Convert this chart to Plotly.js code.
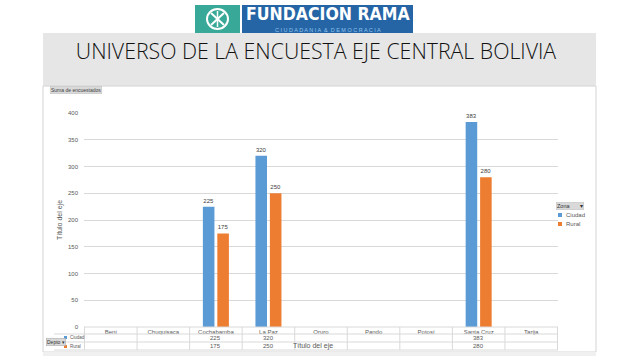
<!DOCTYPE html>
<html>
<head>
<meta charset="utf-8">
<script src="https://cdn.plot.ly/plotly-3.0.1.min.js"></script>
<style>html,body{margin:0;padding:0;background:#fff;}#chart{width:640px;height:360px;}</style>
</head>
<body>
<div id="chart"></div>
<script>
// ---- data ----
const categories = ['Beni','Chuquisaca','Cochabamba','La Paz','Oruro','Pando','Potosí','Santa Cruz','Tarija'];
const ciudad = [null,null,225,320,null,null,null,383,null];
const rural  = [null,null,175,250,null,null,null,280,null];
const seriesNames = ['Ciudad','Rural'];
const yTickVals = [0,50,100,150,200,250,300,350,400];

// ---- layout geometry ----
const W = 640, H = 360;
const L = 84, R = 558, T = 113, B = 327;
const px = x => (x - L) / (R - L);
const py = y => (B - y) / (B - T);
const BLUE = '#5B9BD5', ORANGE = '#ED7D31';
const GRID = '#d9d9d9', TXT = '#595959';
const FONT = 'Liberation Sans, Arial, sans-serif';

const traces = [
  {type:'bar', name:seriesNames[0], x:categories, y:ciudad, marker:{color:BLUE},
   texttemplate:'%{y}', textposition:'outside', textfont:{size:6, color:'#404040', family:FONT},
   cliponaxis:false, showlegend:false, hoverinfo:'x+y'},
  {type:'bar', name:seriesNames[1], x:categories, y:rural, marker:{color:ORANGE},
   texttemplate:'%{y}', textposition:'outside', textfont:{size:6, color:'#404040', family:FONT},
   cliponaxis:false, showlegend:false, hoverinfo:'x+y'}
];

const shapes = [];
const annotations = [];

// slide panels
shapes.push({type:'rect', xref:'paper', yref:'paper', x0:px(43), x1:px(596), y0:py(33), y1:py(86),
  fillcolor:'#e6e6e6', line:{width:0}, layer:'below'});
shapes.push({type:'rect', xref:'paper', yref:'paper', x0:px(43), x1:px(596), y0:py(86), y1:py(352),
  fillcolor:'#ffffff', line:{color:'#d4d4d4', width:1}, layer:'below'});
shapes.push({type:'rect', xref:'paper', yref:'paper', x0:px(43), x1:px(596), y0:py(352), y1:py(356),
  fillcolor:'#f0f0f0', line:{width:0}, layer:'below'});

// logo
shapes.push({type:'rect', xref:'paper', yref:'paper', x0:px(195), x1:px(240), y0:py(5), y1:py(33),
  fillcolor:'#38a898', line:{width:0}});
shapes.push({type:'rect', xref:'paper', yref:'paper', x0:px(242), x1:px(413), y0:py(5), y1:py(33),
  fillcolor:'#2565a6', line:{width:0}});
shapes.push({type:'circle', xref:'paper', yref:'paper', x0:px(207), x1:px(228), y0:py(9), y1:py(29),
  line:{color:'#ffffff', width:2}});
shapes.push({type:'line', xref:'paper', yref:'paper', x0:px(211), x1:px(224), y0:py(13), y1:py(25), line:{color:'#fff', width:2}});
shapes.push({type:'line', xref:'paper', yref:'paper', x0:px(224), x1:px(211), y0:py(13), y1:py(25), line:{color:'#fff', width:2}});
shapes.push({type:'line', xref:'paper', yref:'paper', x0:px(217.5), x1:px(217.5), y0:py(11), y1:py(27), line:{color:'#fff', width:1.5}});
annotations.push({xref:'paper', yref:'paper', x:px(328), y:py(14.5), text:'<b>FUNDACION RAMA</b>', showarrow:false,
  font:{family:'DejaVu Sans Condensed, Liberation Sans Narrow, sans-serif', size:17.5, color:'#ffffff'}, xanchor:'center', yanchor:'middle'});
annotations.push({xref:'paper', yref:'paper', x:px(328), y:py(29.5), text:'C I U D A D A N I A  &  D E M O C R A C I A', showarrow:false,
  font:{family:FONT, size:5.5, color:'#8fc3ec'}, xanchor:'center', yanchor:'middle'});

// "Suma de encuestados" button
annotations.push({xref:'paper', yref:'paper', x:px(50), y:py(90), text:'Suma de encuestados', showarrow:false,
  xanchor:'left', yanchor:'middle', font:{family:FONT, size:5, color:'#404040'}, bgcolor:'#d9d9d9', bordercolor:'#bfbfbf', borderwidth:0.5, borderpad:0.5});

// data table under the axis
const rowY = [327, 334, 342, 350];
rowY.forEach((y,i) => {
  shapes.push({type:'line', xref:'paper', yref:'paper', x0:px(i===0 ? 84 : 54), x1:px(558), y0:py(y), y1:py(y),
    line:{color:GRID, width:1}});
});
for (let i = 0; i <= categories.length; i++) {
  shapes.push({type:'line', xref:'x', yref:'paper', x0:i-0.5, x1:i-0.5, y0:py(327), y1:py(350),
    line:{color:GRID, width:1}});
}
const tableRows = [ciudad, rural];
tableRows.forEach((vals, r) => {
  vals.forEach((v, i) => {
    if (v !== null) annotations.push({xref:'x', yref:'paper', x:categories[i], y:py(r===0 ? 338 : 346), text:String(v),
      showarrow:false, font:{family:FONT, size:6, color:TXT}, yanchor:'middle'});
  });
});
// left legend keys of table
[[BLUE, 337.5, seriesNames[0]], [ORANGE, 346.5, seriesNames[1]]].forEach(([c, y, n]) => {
  shapes.push({type:'rect', xref:'paper', yref:'paper', x0:px(64), x1:px(67), y0:py(y-1.5), y1:py(y+1.5), fillcolor:c, line:{width:0}});
  annotations.push({xref:'paper', yref:'paper', x:px(68), y:py(y), text:n, showarrow:false, xanchor:'left', yanchor:'middle',
    font:{family:FONT, size:4.5, color:TXT}});
});
annotations.push({xref:'paper', yref:'paper', x:px(46), y:py(342), text:'Depto ▾', showarrow:false, xanchor:'left', yanchor:'middle',
  font:{family:FONT, size:5, color:'#333'}, bgcolor:'#d9d9d9', bordercolor:'#a6a6a6', borderwidth:0.5, borderpad:0.5});
// x axis title inside table
annotations.push({xref:'paper', yref:'paper', x:px(313), y:py(346), text:'Título del eje', showarrow:false, yanchor:'middle',
  font:{family:FONT, size:7, color:TXT}});

// right legend
annotations.push({xref:'paper', yref:'paper', x:px(556), y:py(206), text:'Zona       ▾', showarrow:false, xanchor:'left', yanchor:'middle',
  font:{family:FONT, size:5.5, color:'#333'}, bgcolor:'#d9d9d9', bordercolor:'#bfbfbf', borderwidth:0.5, borderpad:0.5});
[[BLUE, 215, seriesNames[0]], [ORANGE, 224, seriesNames[1]]].forEach(([c, y, n]) => {
  shapes.push({type:'rect', xref:'paper', yref:'paper', x0:px(558), x1:px(562), y0:py(y-2), y1:py(y+2), fillcolor:c, line:{width:0}});
  annotations.push({xref:'paper', yref:'paper', x:px(564), y:py(y), text:n, showarrow:false, xanchor:'left', yanchor:'middle',
    font:{family:FONT, size:6, color:TXT}});
});

const layout = {
  width:W, height:H,
  margin:{l:L, r:W-R, t:T, b:H-B, pad:0},
  paper_bgcolor:'#ffffff', plot_bgcolor:'rgba(0,0,0,0)',
  title:{text:'UNIVERSO DE LA ENCUESTA EJE CENTRAL BOLIVIA', xref:'container', yref:'container',
    x:316/W, y:1-52/H, xanchor:'center', yanchor:'middle',
    font:{family:'Open Sans, Lato, sans-serif', weight:300, size:21.3, color:'#111111'}},
  barmode:'group', bargap:0.45, bargroupgap:0.2,
  xaxis:{type:'category', categoryarray:categories, showgrid:false, zeroline:false, showline:false, ticks:'',
    tickfont:{family:FONT, size:6, color:TXT}, ticklabelstandoff:0, automargin:false, fixedrange:true},
  yaxis:{range:[0,400], tickvals:yTickVals, showgrid:true, gridcolor:GRID, gridwidth:1, zeroline:false, showline:false,
    ticks:'', tickfont:{family:FONT, size:6, color:TXT}, ticklabelstandoff:5, automargin:false,
    title:{text:'Título del eje', font:{family:FONT, size:7, color:TXT}, standoff:4}},
  shapes:shapes, annotations:annotations, showlegend:false
};

Plotly.newPlot('chart', traces, layout, {displayModeBar:false, staticPlot:true});
</script>
</body>
</html>
